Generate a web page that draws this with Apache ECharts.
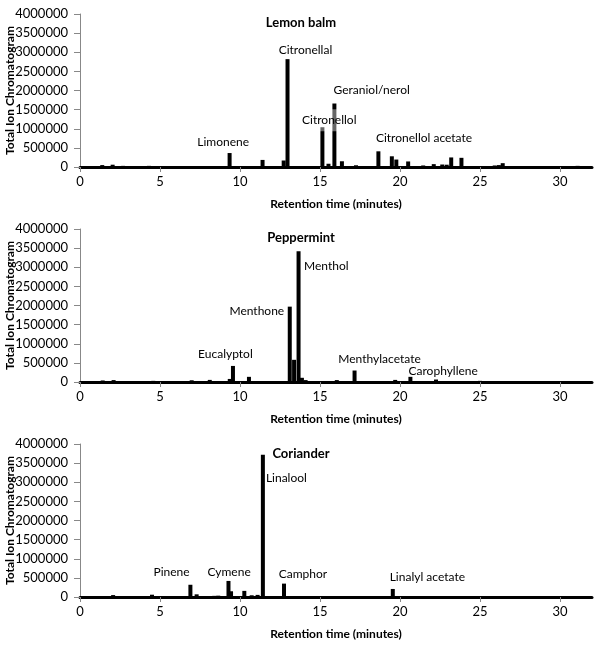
<!DOCTYPE html>
<html>
<head>
<meta charset="utf-8">
<script src="https://cdn.jsdelivr.net/npm/echarts@6/dist/echarts.min.js"></script>
<style>
html,body{margin:0;padding:0;background:#fff;}
#chart{width:600px;height:645px;}
</style>
</head>
<body>
<div id="chart"></div>
<script>
// ---------- data (retention time in minutes, total ion count) ----------
const panelTitles = ['Lemon balm', 'Peppermint', 'Coriander'];

const lemonTimes   = [1.39, 2.04, 2.7, 4.31, 9.35, 11.41, 12.73, 12.97, 15.15, 15.53, 15.9, 16.37, 17.25, 18.65, 19.49, 19.77, 20.51, 21.45, 22.11, 22.64, 22.92, 23.2, 23.84, 25.92, 26.18, 26.42, 31.1];
const lemonHeights = [50000, 60000, 30000, 30000, 365000, 185000, 170000, 2820000, 1040000, 85000, 1660000, 150000, 45000, 410000, 280000, 195000, 145000, 40000, 75000, 65000, 60000, 250000, 240000, 40000, 50000, 100000, 30000];

const pepperTimes   = [1.42, 2.1, 4.58, 6.98, 8.11, 9.36, 9.56, 10.56, 11.5, 13.11, 13.38, 13.66, 13.87, 14.1, 16.05, 17.16, 19.7, 20.65, 22.25, 25.0];
const pepperHeights = [40000, 50000, 30000, 45000, 55000, 80000, 420000, 135000, 25000, 1970000, 580000, 3420000, 110000, 50000, 50000, 300000, 55000, 135000, 65000, 30000];

const corTimes   = [2.07, 4.5, 6.9, 7.29, 8.39, 8.64, 9.28, 9.44, 10.27, 10.73, 11.1, 11.43, 12.75, 14.07, 19.55];
const corHeights = [50000, 60000, 320000, 70000, 30000, 35000, 420000, 150000, 160000, 45000, 55000, 3720000, 350000, 25000, 210000];

// peak annotations: name, anchor time, anchor intensity, text anchoring
const lemonLabels  = ['Limonene', 'Citronellal', 'Citronellol', 'Geraniol/nerol', 'Citronellol acetate'];
const lemonLabelX  = [8.95, 14.09, 15.58, 18.23, 21.5];
const lemonLabelY  = [650000, 3050000, 1220000, 2010000, 760000];
const lemonLabelAl = ['center', 'center', 'center', 'center', 'center'];

const pepperLabels  = ['Eucalyptol', 'Menthone', 'Menthol', 'Menthylacetate', 'Carophyllene'];
const pepperLabelX  = [9.09, 11.05, 14.0, 18.72, 22.7];
const pepperLabelY  = [720000, 1850000, 3030000, 610000, 280000];
const pepperLabelAl = ['center', 'center', 'left', 'center', 'center'];

const corLabels  = ['Pinene', 'Cymene', 'Linalool', 'Camphor', 'Linalyl acetate'];
const corLabelX  = [5.72, 9.32, 11.62, 13.93, 21.71];
const corLabelY  = [650000, 650000, 3120000, 610000, 530000];
const corLabelAl = ['center', 'center', 'left', 'center', 'center'];

// labels whose box partly veils the peaks underneath (as in the source figure)
const veiledLabels = ['Citronellol'];

const xTicks = [0, 5, 10, 15, 20, 25, 30];
const yMax = 4000000, yStep = 500000, xMax = 32;

// ---------- chart ----------
const FONT = 'Lato';
const panels = [
  {t: lemonTimes, h: lemonHeights, ln: lemonLabels, lx: lemonLabelX, ly: lemonLabelY, la: lemonLabelAl},
  {t: pepperTimes, h: pepperHeights, ln: pepperLabels, lx: pepperLabelX, ly: pepperLabelY, la: pepperLabelAl},
  {t: corTimes, h: corHeights, ln: corLabels, lx: corLabelX, ly: corLabelY, la: corLabelAl}
];
const gridTops = [14, 229, 444];
const titleTops = [16, 231, 447];

const option = {
  animation: false,
  backgroundColor: '#fff',
  textStyle: {fontFamily: FONT},
  title: panelTitles.map((txt, i) => ({
    text: txt, left: 301, top: titleTops[i], textAlign: 'center', padding: 0,
    textStyle: {fontFamily: FONT, fontSize: 13, fontWeight: 'bold', color: '#000'}
  })),
  grid: gridTops.map(t => ({left: 80, right: 8, top: t, height: 153, containLabel: false, outerBoundsMode: 'none'})),
  xAxis: gridTops.map((t, i) => ({
    type: 'value', gridIndex: i, min: 0, max: xMax, interval: 5,
    name: 'Retention time (minutes)', nameLocation: 'middle', nameGap: 31, nameMoveOverlap: false,
    nameTextStyle: {fontFamily: FONT, fontSize: 12, fontWeight: 'bold', color: '#000'},
    axisLine: {show: true, onZero: false, lineStyle: {color: '#000', width: 3}},
    axisTick: {show: true, length: 5, customValues: xTicks, lineStyle: {color: '#888', width: 1}},
    axisLabel: {customValues: xTicks, margin: 8, fontFamily: FONT, fontSize: 13, color: '#000'},
    splitLine: {show: false}
  })),
  yAxis: gridTops.map((t, i) => ({
    type: 'value', gridIndex: i, min: 0, max: yMax, interval: yStep,
    name: 'Total Ion Chromatogram', nameLocation: 'middle', nameGap: 64, nameRotate: 90, nameMoveOverlap: false,
    nameTextStyle: {fontFamily: FONT, fontSize: 12, fontWeight: 'bold', color: '#000'},
    axisLine: {show: true, lineStyle: {color: '#888', width: 1}},
    axisTick: {show: true, length: 6, lineStyle: {color: '#888'}},
    axisLabel: {margin: 12, fontFamily: FONT, fontSize: 13, color: '#000', formatter: v => String(v)},
    splitLine: {show: false}
  })),
  series: []
};

panels.forEach((p, i) => {
  option.series.push({
    type: 'bar', xAxisIndex: i, yAxisIndex: i, barWidth: 4, silent: true,
    itemStyle: {color: '#000'}, z: 2,
    data: p.t.map((tt, k) => [tt, p.h[k]])
  });
  // translucent veils behind selected labels
  const veilIdx = p.ln.map((nm, k) => k).filter(k => veiledLabels.includes(p.ln[k]));
  if (veilIdx.length) {
    option.series.push({
      type: 'scatter', xAxisIndex: i, yAxisIndex: i, symbolSize: 0, silent: true, z: 4,
      itemStyle: {color: '#000'},
      data: veilIdx.map(k => ({value: [p.lx[k], p.ly[k]], name: p.ln[k], label: {align: p.la[k]}})),
      label: {
        show: true, position: 'inside', verticalAlign: 'middle',
        formatter: d => d.name, fontFamily: FONT, fontSize: 12, color: 'rgba(0,0,0,0)',
        textBorderWidth: 0, backgroundColor: 'rgba(255,255,255,0.5)', padding: [5, 1]
      }
    });
  }
  option.series.push({
    type: 'scatter', xAxisIndex: i, yAxisIndex: i, symbolSize: 0, silent: true, z: 5,
    itemStyle: {color: '#000', opacity: 1},
    data: p.ln.map((nm, k) => ({value: [p.lx[k], p.ly[k]], name: nm, label: {align: p.la[k]}})),
    label: {
      show: true, position: 'inside', verticalAlign: 'middle',
      formatter: d => d.name, fontFamily: FONT, fontSize: 12, color: '#000',
      textBorderWidth: 0, textBorderColor: 'transparent'
    }
  });
});

const chart = echarts.init(document.getElementById('chart'), null, {renderer: 'canvas'});
chart.setOption(option);
</script>
</body>
</html>
